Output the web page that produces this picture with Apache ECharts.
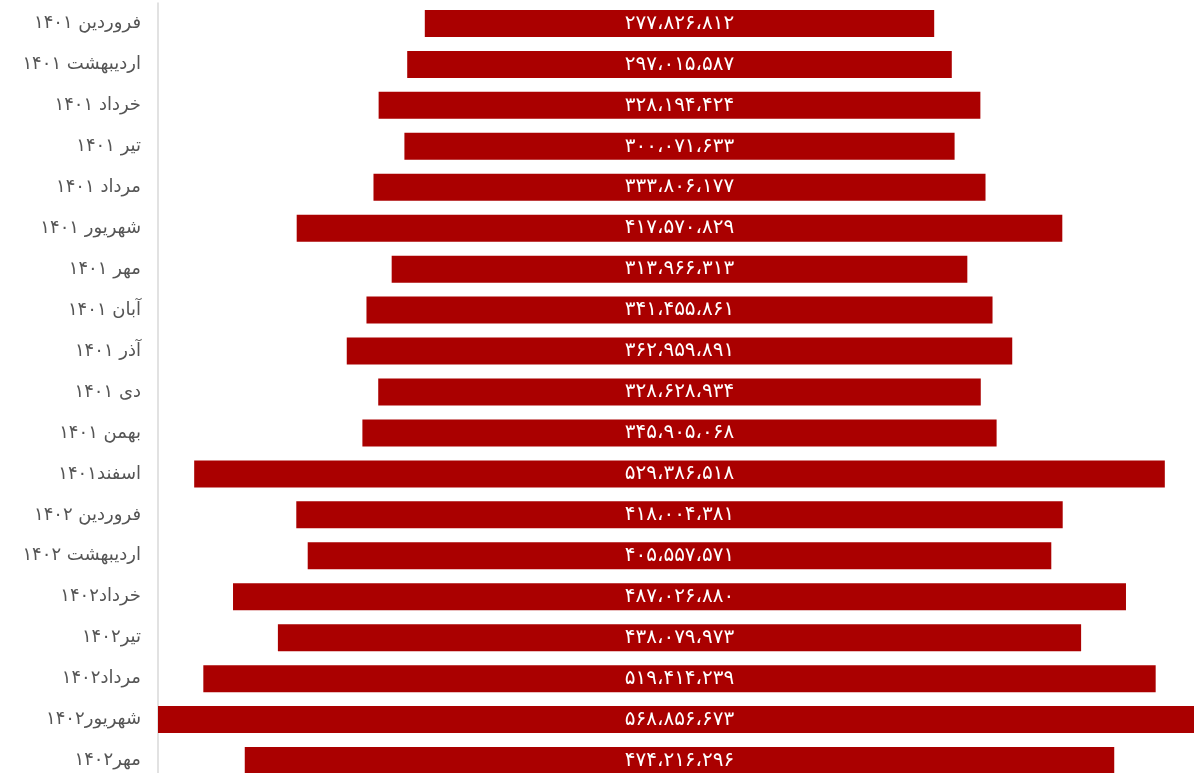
<!DOCTYPE html>
<html><head><meta charset="utf-8">
<script src="https://cdn.jsdelivr.net/npm/echarts@6/dist/echarts.min.js"></script>
<style>html,body{margin:0;padding:0;background:#fff;overflow:hidden;width:1194px;height:773px}#c{width:1201px;height:781px}</style>
</head><body><div id="c"></div>
<script>
const categories = ["فروردین ۱۴۰۱","اردیبهشت ۱۴۰۱","خرداد ۱۴۰۱","تیر ۱۴۰۱","مرداد ۱۴۰۱","شهریور ۱۴۰۱","مهر ۱۴۰۱","آبان ۱۴۰۱","آذر ۱۴۰۱","دی ۱۴۰۱","بهمن ۱۴۰۱","اسفند۱۴۰۱","فروردین ۱۴۰۲","اردیبهشت ۱۴۰۲","خرداد۱۴۰۲","تیر۱۴۰۲","مرداد۱۴۰۲","شهریور۱۴۰۲","مهر۱۴۰۲"];
const values = [277826812,297015587,328194424,300071633,333806177,417570829,313966313,341455861,362959891,328628934,345905068,529386518,418004381,405557571,487026880,438079973,519414239,568856673,474216296];

const maxV = Math.max(...values);
const offsets = values.map(v => (maxV - v) / 2);
const fa = '۰۱۲۳۴۵۶۷۸۹';
function toFa(n){
  const s = String(Math.round(n)).replace(/\B(?=(\d{3})+(?!\d))/g, '،');
  return s.replace(/\d/g, d => fa[+d]);
}
const chart = echarts.init(document.getElementById('c'));
chart.setOption({
  animation:false,
  backgroundColor:'#fff',
  grid:{left:158,right:0,top:3,bottom:0,containLabel:false},
  xAxis:{type:'value',min:0,max:maxV,show:false,splitLine:{show:false}},
  yAxis:{type:'category',data:categories,inverse:true,offset:2,
    axisLine:{show:true,lineStyle:{color:'#d9d9d9',width:1.5}},
    axisTick:{show:false},
    axisLabel:{color:'#555555',fontSize:18,fontFamily:'DejaVu Sans',margin:15}},
  series:[
    {type:'bar',stack:'a',data:offsets,itemStyle:{color:'transparent'},barWidth:27,silent:true},
    {type:'bar',stack:'a',data:values,barWidth:27,itemStyle:{color:'#AA0000'},
     label:{show:true,position:'inside',color:'#fff',fontSize:20,fontFamily:'DejaVu Sans',formatter:p=>toFa(p.value)}}
  ]
});
</script></body></html>
